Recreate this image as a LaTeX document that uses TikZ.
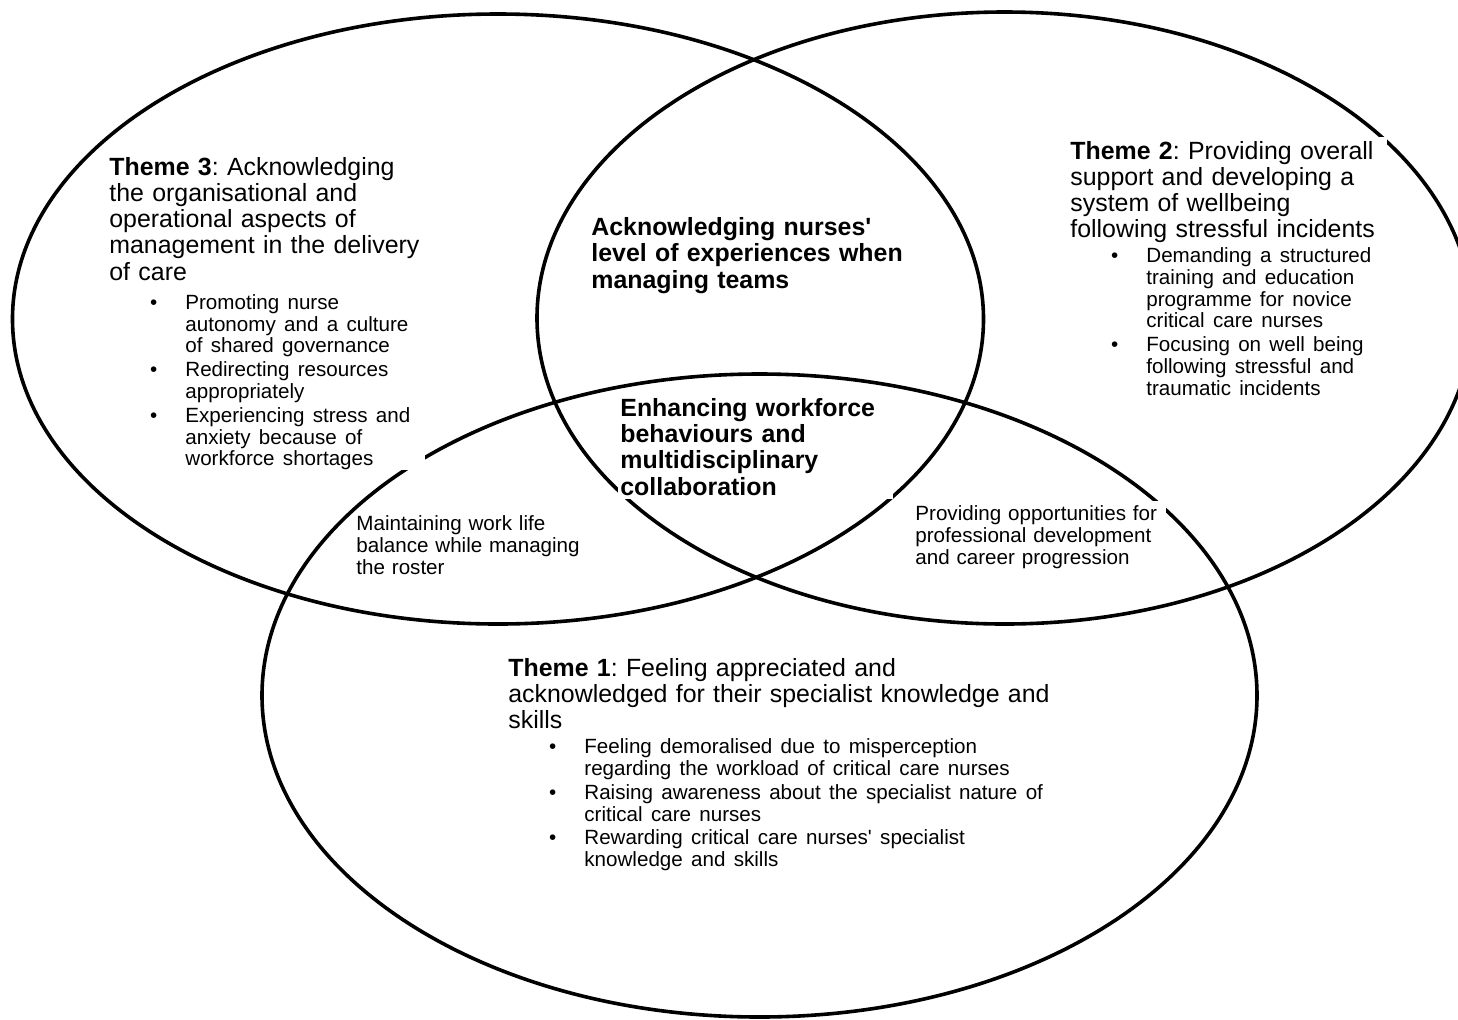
\documentclass[tikz,border=0pt]{standalone}
\usepackage{fontspec}
\setmainfont{Liberation Sans}
\usepackage{tikz}
\def\bul#1{\par\hangindent=38pt\hangafter=0\noindent\llap{\textbullet\hspace{14pt}}#1}
\def\smalltext{\fontsize{10.3}{10.9}\selectfont\parskip=1pt}
\tikzset{
	ring/.style={line width=1.8pt},
	theme/.style={anchor=base west, inner xsep=1pt, inner ysep=2pt, font=\fontsize{12.45}{13.15}\selectfont\frenchspacing},
	note/.style={theme, font=\fontsize{10.3}{11.2}\selectfont\frenchspacing},
	masked/.style={fill=white}
}

\begin{document}
\begin{tikzpicture}[x=0.5pt, y=-0.5pt]
			%%%%% START %%%%%
			\useasboundingbox (0,0) rectangle (1458,1019);
			
			\draw[ring] (498, 319) ellipse (485.5 and 305);
			\draw[ring] (1004.6, 318) ellipse (467.6 and 306);
			\draw[ring] (759.5, 695.5) ellipse (497.5 and 321.5);
			
			\node[theme, masked, inner ysep=0pt, text width=157pt] (themeC) at (107, 175) {\textbf{Theme 3}: Acknowledging\newline the organisational and\newline operational aspects of\newline management in the delivery\newline of care\par
				\smalltext\vspace{2.6pt}%
				\bul{Promoting nurse\newline autonomy and a culture\newline of shared governance}%
				\bul{Redirecting resources\newline appropriately}%
				\bul{Experiencing stress and\newline anxiety because of\newline workforce shortages}\par};
			
			\node[theme, masked, text width=157.5pt] (themeB) at (1068, 159) {\textbf{Theme 2}: Providing overall\newline support and developing a\newline system of wellbeing\newline following stressful incidents\par
				\smalltext\vspace{0.4pt}%
				\bul{Demanding a structured\newline training and education\newline programme for novice\newline critical care nurses}%
				\bul{Focusing on well being\newline following stressful and\newline traumatic incidents}\par};
			
			\node[theme, text width=290pt] (themeA) at (506, 676) {\textbf{Theme 1}: Feeling appreciated and\newline acknowledged for their specialist knowledge and\newline skills\par
				\smalltext\vspace{0.6pt}%
				\bul{Feeling demoralised due to misperception\newline regarding the workload of critical care nurses}%
				\bul{Raising awareness about the specialist nature of\newline critical care nurses}%
				\bul{Rewarding critical care nurses\textquotesingle{} specialist\newline knowledge and skills}\par};
			
			\node[theme, text width=170pt, font=\fontsize{12.45}{13.3}\selectfont\bfseries] (ackNurses) at (589, 235) {Acknowledging nurses\textquotesingle\newline level of experiences when\newline managing teams};
			\node[theme, masked, text width=135.5pt, font=\fontsize{12.45}{13.2}\selectfont\bfseries] (enhancing) at (618, 416) {Enhancing workforce\newline behaviours and\newline multidisciplinary\newline collaboration};
			
			\node[note, text width=130pt] (workLife) at (354, 530) {Maintaining work life\newline balance while managing\newline the roster};
			\node[note, masked, text width=124.5pt] (careerDev) at (913, 520) {Providing opportunities for\newline professional development\newline and career progression};
			
			%%%%% END %%%%%
		\end{tikzpicture}
\end{document}
